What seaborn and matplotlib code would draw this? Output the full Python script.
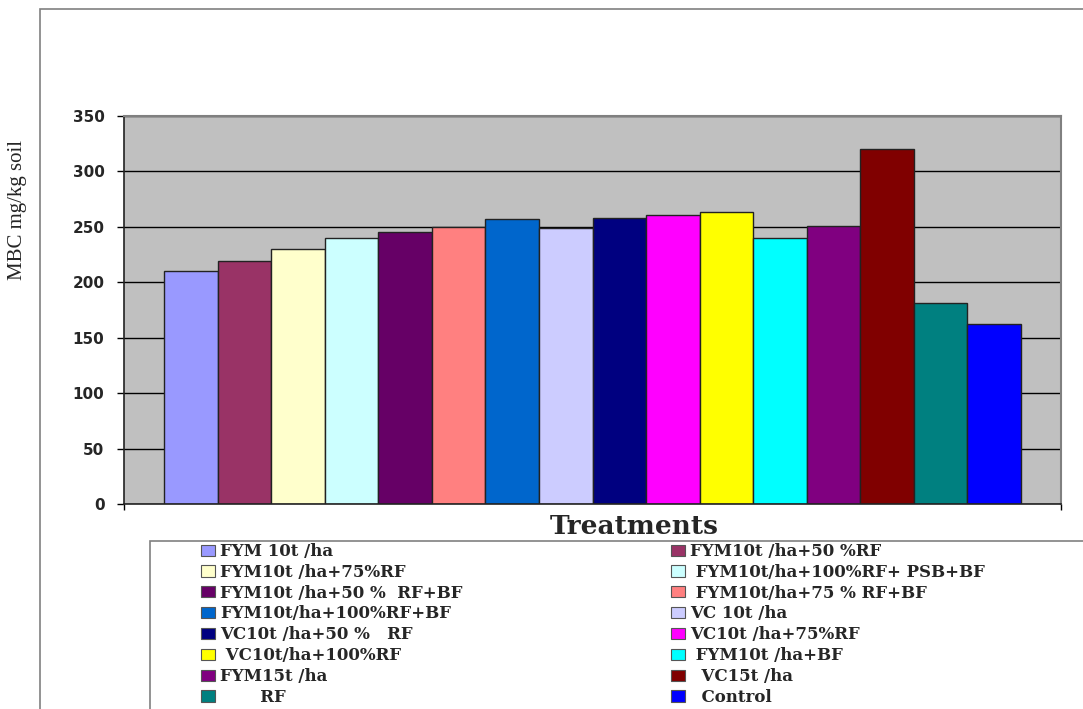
import pandas as pd
import matplotlib
matplotlib.use("Agg")
import matplotlib.pyplot as plt
from matplotlib.patches import Patch, Rectangle
import seaborn as sns

# data
treatments = ["FYM 10t /ha", "FYM10t /ha+50 %RF", "FYM10t /ha+75%RF",
              " FYM10t/ha+100%RF+ PSB+BF", "FYM10t /ha+50 %  RF+BF",
              " FYM10t/ha+75 % RF+BF", "FYM10t/ha+100%RF+BF", "VC 10t /ha",
              "VC10t /ha+50 %   RF", "VC10t /ha+75%RF", " VC10t/ha+100%RF",
              " FYM10t /ha+BF", "FYM15t /ha", "  VC15t /ha", "       RF",
              "  Control"]
mbc = [210, 219, 230, 240, 245, 250, 257, 249, 258, 261, 263, 240, 251, 320, 181, 162]
colors = ["#9999FF", "#993366", "#FFFFCC", "#CCFFFF", "#660066", "#FF8080",
          "#0066CC", "#CCCCFF", "#000080", "#FF00FF", "#FFFF00", "#00FFFF",
          "#800080", "#800000", "#008080", "#0000FF"]
yticks = [0, 50, 100, 150, 200, 250, 300, 350]

df = pd.DataFrame({"Treatment": treatments, "MBC": mbc})

sns.set_theme(style="white")

fig = plt.figure(figsize=(10.83, 7.09), dpi=100)
W, H = 1083, 709

# outer chart border and legend box (run off the picture edges)
fig.add_artist(Rectangle((40 / W, -0.1), 1.1, 1 - 9 / H + 0.1, transform=fig.transFigure,
                         fill=False, edgecolor="#808080", lw=1.2, clip_on=False))
fig.add_artist(Rectangle((150 / W, -0.1), 1.0, 1 - 541 / H + 0.1, transform=fig.transFigure,
                         facecolor="white", edgecolor="#808080", lw=1.2, clip_on=False))

ax = fig.add_axes([124 / W, (H - 504) / H, 937 / W, 388 / H])
ax.set_facecolor("#C0C0C0")

sns.barplot(data=df, x="Treatment", y="MBC", hue="Treatment", palette=colors,
            dodge=False, width=1.0, errorbar=None, legend=False, saturation=1,
            edgecolor="#222222", linewidth=1, ax=ax)

ax.set_ylim(0, 350)
ax.set_yticks(yticks)
ax.set_yticklabels([str(v) for v in yticks], fontweight="bold", fontsize=11,
                   family="DejaVu Sans")
ax.set_xlim(-1.247, 16.247)
ax.set_xticks([-1.247, 16.247])
ax.set_xticklabels([])
ax.tick_params(axis="y", direction="out", length=5, width=1, color="black", pad=9, left=True)
ax.tick_params(axis="x", direction="out", length=4, width=1, color="black", bottom=True)
ax.yaxis.grid(True, color="black", lw=1)
ax.set_axisbelow(True)

for side in ["left", "bottom"]:
    ax.spines[side].set_color("#222222")
    ax.spines[side].set_linewidth(1.2)
for side in ["top", "right"]:
    ax.spines[side].set_color("#808080")
    ax.spines[side].set_linewidth(1.5)

ax.set_ylabel("MBC mg/kg soil", family="Liberation Serif", fontsize=15)
ax.yaxis.set_label_coords((27 - 124) / 937, (504 - 210) / 388)
ax.set_xlabel("Treatments", family="DejaVu Serif", fontweight="bold", fontsize=19)
ax.xaxis.set_label_coords((634 - 124) / 937, (504 - 527) / 388)
ax.xaxis.label.set_va("center")

# legend: two columns filled row by row
handles = [Patch(facecolor=c, edgecolor="#555555", lw=0.8) for c in colors]
leg_kw = dict(frameon=False, loc="upper left", borderpad=0, borderaxespad=0,
              handlelength=0.85, handleheight=0.65, handletextpad=0.3,
              labelspacing=0.23,
              prop={"family": "DejaVu Serif", "weight": "bold", "size": 12})
fig.legend(handles[0::2], treatments[0::2], bbox_to_anchor=(201 / W, 1 - 543 / H), **leg_kw)
fig.legend(handles[1::2], treatments[1::2], bbox_to_anchor=(671 / W, 1 - 543 / H), **leg_kw)

fig.savefig("out.png", dpi=100)
